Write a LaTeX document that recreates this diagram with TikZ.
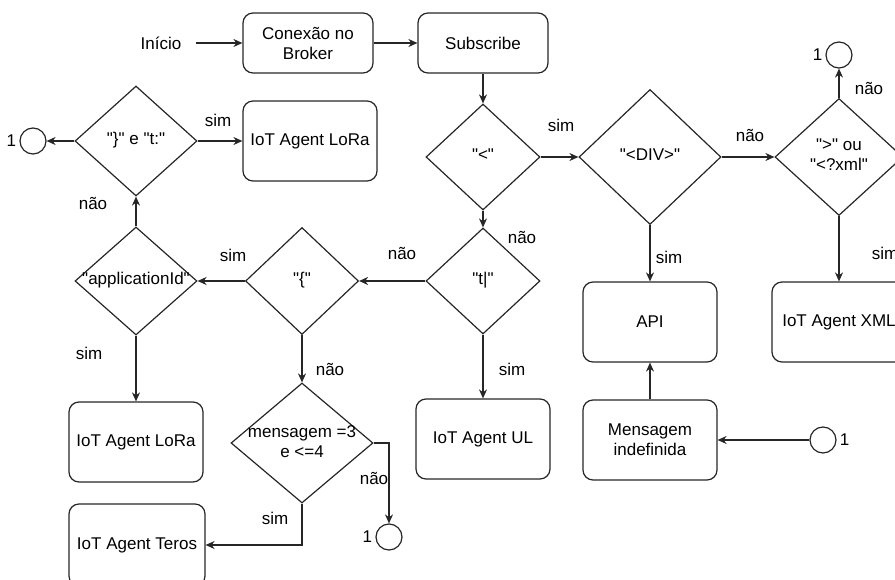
\documentclass[tikz,border=0pt]{standalone}
\usepackage{fontspec}
\setmainfont{Liberation Sans}[Ligatures=TeXOff]
\usetikzlibrary{shapes.geometric,arrows.meta}

% text of a diamond: zero width, so the diamond keeps its own size
\newcommand{\dtext}[1]{\makebox[0pt]{\begin{tabular}{@{}c@{}}#1\end{tabular}}}

\begin{document}
\begin{tikzpicture}[x=1pt, y=-1pt,
  font=\fontsize{17}{20}\selectfont,
  box/.style={rectangle, rounded corners=10, draw=black!85, line width=1.2pt, align=center, minimum width=134, minimum height=80, inner sep=0},
  smallbox/.style={box, minimum width=130, minimum height=60},
  decision/.style={diamond, draw=black!85, line width=1.2pt, inner sep=0},
  conn/.style={circle, draw=black!85, line width=1.2pt, minimum size=26, inner sep=0},
  flow/.style={draw=black!85, line width=1.2pt, -{Stealth[length=9pt, width=8pt]}},
  lbl/.style={inner sep=0},
  every label/.style={inner sep=1pt},
  label distance=2pt]
  \useasboundingbox (0,0) rectangle (895,580);
  \clip (0,0) rectangle (895,580);

  % top row
  \node[lbl] (inicio) at (161,43) {Início};
  \node[smallbox] (broker) at (308,43) {Conexão no\\Broker};
  \node[smallbox] (sub) at (483,43) {Subscribe};

  % decisions
  \node[decision, minimum width=114, minimum height=106] (lt) at (483,157) {\dtext{"<"}};
  \node[decision, minimum width=142, minimum height=135] (div) at (650,157) {\dtext{"<DIV>"}};
  \node[decision, minimum width=128, minimum height=117] (xml) at (839,157) {\dtext{">" ou\\"<?xml"}};
  \node[decision, minimum width=114, minimum height=106] (tpipe) at (483,281) {\dtext{"t|"}};
  \node[decision, minimum width=113, minimum height=107] (brace) at (302,281) {\dtext{"\{"}};
  \node[decision, minimum width=122, minimum height=108] (appid) at (136,281) {\dtext{"applicationId"}};
  \node[decision, minimum width=122, minimum height=110] (close) at (136,141) {\dtext{"\}" e "t:"}};
  \node[decision, minimum width=142, minimum height=120] (msgcheck) at (302,443) {\dtext{mensagem =3\\e <=4}};

  % processes
  \node[box] (loraTop) at (310,141) {IoT Agent LoRa};
  \node[box] (api) at (650,322) {API};
  \node[box] (xmlbox) at (839,322) {IoT Agent XML};
  \node[box] (msg) at (650,440) {Mensagem\\indefinida};
  \node[box] (ul) at (483,439) {IoT Agent UL};
  \node[box] (loraLow) at (136,442) {IoT Agent LoRa};
  \node[box, minimum width=136, minimum height=82] (teros) at (137,545) {IoT Agent Teros};

  % connectors "1"
  \node[conn, label=left:1] (c1) at (33,141) {};
  \node[conn, label=left:1] (c2) at (839,55) {};
  \node[conn, label=right:1] (c3) at (823,440) {};
  \node[conn, label=left:1] (c4) at (389,537) {};

  % arrows
  \draw[flow] ([xshift=14pt]inicio.east) -- (broker.west);
  \draw[flow] (broker.east) -- (sub.west);
  \draw[flow] (sub.south) -- (lt.north);
  \draw[flow] (lt.east) -- (div.west);
  \draw[flow] (div.east) -- (xml.west);
  \draw[flow] (xml.north) -- (c2.south);
  \draw[flow] (xml.south) -- (xmlbox.north);
  \draw[flow] (div.south) -- (api.north);
  \draw[flow] (msg.north) -- (api.south);
  \draw[flow] (c3.west) -- (msg.east);
  \draw[flow] (lt.south) -- (tpipe.north);
  \draw[flow] (tpipe.south) -- (ul.north);
  \draw[flow] (tpipe.west) -- (brace.east);
  \draw[flow] (brace.west) -- (appid.east);
  \draw[flow] (appid.north) -- (close.south);
  \draw[flow] (close.east) -- (loraTop.west);
  \draw[flow] (close.west) -- (c1.east);
  \draw[flow] (appid.south) -- (loraLow.north);
  \draw[flow] (brace.south) -- (msgcheck.north);
  \draw[flow] (msgcheck.east) -| (c4.north);
  \draw[flow] (msgcheck.south) |- (teros.east);

  % answers
  \node[lbl] (simLt) at (561,125) {sim};
  \node[lbl] (naoDiv) at (750,135) {não};
  \node[lbl] (naoXml) at (869,88) {não};
  \node[lbl] (simXml) at (885,253) {sim};
  \node[lbl] (simDiv) at (669,257) {sim};
  \node[lbl] (naoLt) at (522,237) {não};
  \node[lbl] (simPipe) at (512,369) {sim};
  \node[lbl] (naoPipe) at (402,253) {não};
  \node[lbl] (simBrace) at (233,255) {sim};
  \node[lbl] (naoApp) at (93,203) {não};
  \node[lbl] (simClose) at (218,120) {sim};
  \node[lbl] (simApp) at (89,353) {sim};
  \node[lbl] (naoBrace) at (330,369) {não};
  \node[lbl] (naoMsg) at (374,478) {não};
  \node[lbl] (simMsg) at (275,518) {sim};
\end{tikzpicture}
\end{document}
